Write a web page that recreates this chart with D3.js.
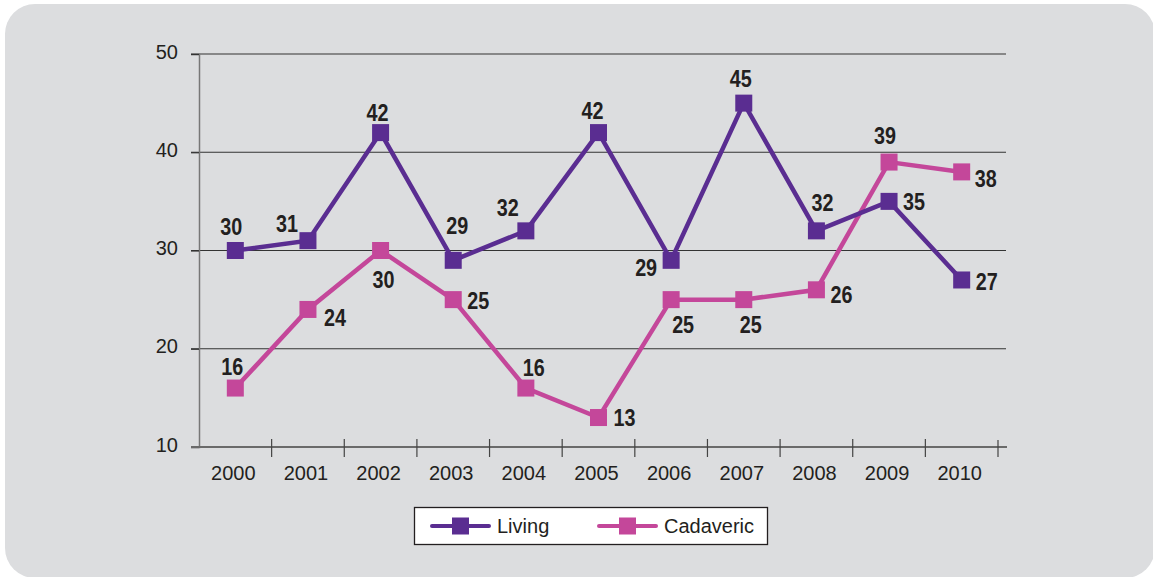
<!DOCTYPE html>
<html><head><meta charset="utf-8">
<script src="https://cdn.jsdelivr.net/npm/d3@7"></script>
<style>
html,body{margin:0;padding:0;background:#fff;}
svg{display:block;}
</style></head>
<body>
<svg id="chart" width="1153" height="577"></svg>
<script>
const years = ["2000","2001","2002","2003","2004","2005","2006","2007","2008","2009","2010"];
const living = [30,31,42,29,32,42,29,45,32,35,27];
const cadaveric = [16,24,30,25,16,13,25,25,26,39,38];
const yTicks = [10,20,30,40,50];
const seriesNames = ["Living","Cadaveric"];

// label placement offsets (px) relative to markers
const livingLabelOffsets = [[-4,-16],[-21,-9],[-3,-12],[4,-26],[-18,-15],[-6,-14],[-25,16],[-3,-16],[6,-20],[25,9],[25,10]];
const cadavericLabelOffsets = [[-3,-13],[27,17],[3,37],[25,9],[8,-12],[26,8],[12,33],[7,33],[25,13],[-4,-18],[24,15]];

const colors = {Living:"#5a2d91", Cadaveric:"#c4479a"};
const svg = d3.select("#chart");

// panel
svg.append("rect").attr("x",5).attr("y",4).attr("width",1150).attr("height",574)
  .attr("rx",30).attr("ry",30).attr("fill","#dcdddf");

const x = d3.scaleBand().domain(years).range([199,998]).padding(0);
const y = d3.scaleLinear().domain([10,50]).range([447,54]);
const cx = d => x(d) + x.bandwidth()/2;

const regFont = "'Liberation Sans', Arial, Helvetica, sans-serif";
const boldFont = "'Liberation Sans', Arial, Helvetica, sans-serif";

// gridlines
svg.append("g").selectAll("line").data(yTicks.filter(t=>t>10)).join("line")
  .attr("x1",191).attr("x2",1006).attr("y1",d=>y(d)).attr("y2",d=>y(d))
  .attr("stroke","#333").attr("stroke-width",1.2);

// y axis
const yAxis = d3.axisLeft(y).tickValues(yTicks).tickSize(8).tickPadding(13).tickFormat(d3.format("d"));
const gy = svg.append("g").attr("transform","translate(199,0)").call(yAxis);
gy.select(".domain").attr("stroke","#777").attr("stroke-width",1.5);
gy.selectAll(".tick line").attr("stroke","#333").attr("stroke-width",1.2);
gy.selectAll(".tick text").attr("font-family",regFont).attr("font-size",20).attr("fill","#231f20").attr("dy","0.2em");

// x axis
svg.append("line").attr("x1",191).attr("x2",1007).attr("y1",447).attr("y2",447)
  .attr("stroke","#6a6a6a").attr("stroke-width",2);
const boundaries = years.map(d=>x(d)).concat([x(years[years.length-1])+x.bandwidth()]).slice(1);
svg.append("g").selectAll("line").data(boundaries).join("line")
  .attr("x1",d=>d).attr("x2",d=>d).attr("y1",(d,i)=> i===boundaries.length-1 ? 440 : 439).attr("y2",457)
  .attr("stroke","#444").attr("stroke-width",1.2);
svg.append("g").selectAll("text").data(years).join("text")
  .attr("x",d=>cx(d)-2).attr("y",480).attr("text-anchor","middle")
  .attr("font-family",regFont).attr("font-size",20).attr("fill","#231f20").text(d=>d);

const line = d3.line().x((d,i)=>cx(years[i])).y(d=>y(d));
const ms = 17;

function drawSeries(vals, color){
  const g = svg.append("g");
  g.append("path").datum(vals).attr("d",line).attr("fill","none")
    .attr("stroke",color).attr("stroke-width",4.5).attr("stroke-linejoin","miter");
  g.selectAll("rect").data(vals).join("rect")
    .attr("x",(d,i)=>cx(years[i])-ms/2).attr("y",d=>y(d)-ms/2)
    .attr("width",ms).attr("height",ms).attr("fill",color);
  return g;
}
function drawLabels(vals, offs){
  svg.append("g").selectAll("text").data(vals).join("text")
    .attr("x",(d,i)=>cx(years[i])+offs[i][0]-11).attr("y",(d,i)=>y(d)+offs[i][1])
    .attr("font-family",boldFont).attr("font-weight","bold")
    .attr("font-size",23).attr("fill","#231f20")
    .attr("textLength",22).attr("lengthAdjust","spacingAndGlyphs").text(d=>d);
}
drawSeries(cadaveric, colors.Cadaveric);
drawSeries(living, colors.Living);
drawLabels(living, livingLabelOffsets);
drawLabels(cadaveric, cadavericLabelOffsets);

// legend
const lg = svg.append("g");
lg.append("rect").attr("x",414.5).attr("y",507.5).attr("width",353).attr("height",37)
  .attr("fill","#fff").attr("stroke","#231f20").attr("stroke-width",1.3);
const legendX = [432, 599];
seriesNames.forEach((n,i)=>{
  const x0 = legendX[i];
  lg.append("line").attr("x1",x0).attr("x2",x0+57).attr("y1",526).attr("y2",526)
    .attr("stroke",colors[n]).attr("stroke-width",4).attr("stroke-linecap","round");
  lg.append("rect").attr("x",x0+28.5-ms/2).attr("y",526-ms/2).attr("width",ms).attr("height",ms).attr("fill",colors[n]);
  lg.append("text").attr("x",x0+65).attr("y",533).attr("font-family",regFont).attr("font-size",20)
    .attr("fill","#231f20").text(n);
});
</script>
</body></html>
